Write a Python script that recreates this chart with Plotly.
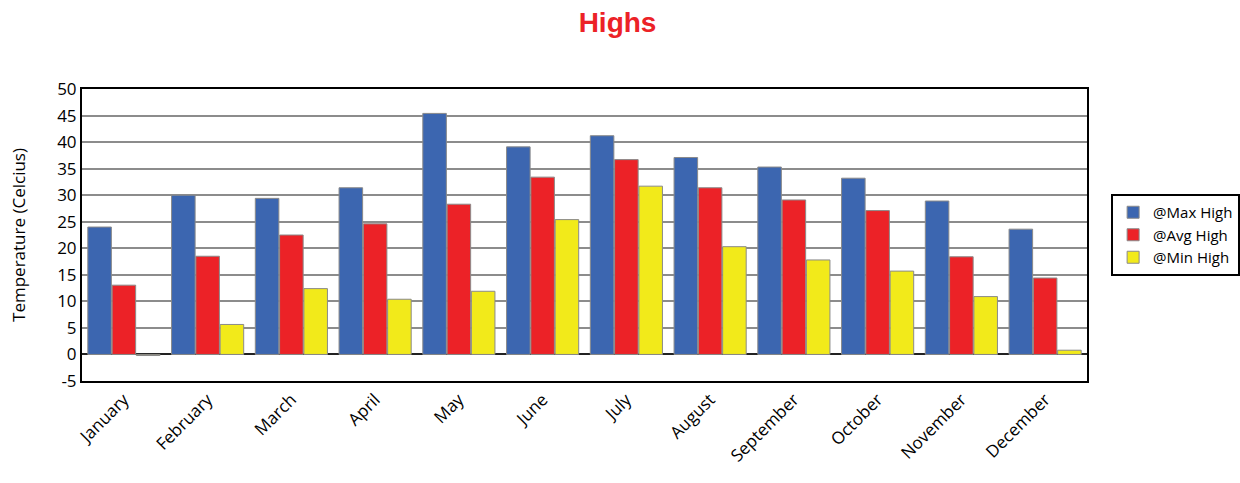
import plotly.graph_objects as go

months = ["January", "February", "March", "April", "May", "June", "July",
          "August", "September", "October", "November", "December"]
max_high = [24.0, 30.0, 29.4, 31.4, 45.4, 39.1, 41.2, 37.1, 35.3, 33.2, 28.9, 23.6]
avg_high = [13.05, 18.5, 22.5, 24.6, 28.3, 33.4, 36.7, 31.4, 29.1, 27.1, 18.4, 14.4]
min_high = [-0.2, 5.65, 12.4, 10.4, 11.9, 25.4, 31.7, 20.3, 17.8, 15.7, 10.9, 0.8]
series_names = ["@Max High", "@Avg High", "@Min High"]
colors = ["#3c66b0", "#ec2227", "#f2ea1a"]
y_ticks = [-5, 0, 5, 10, 15, 20, 25, 30, 35, 40, 45, 50]

font_family = "Open Sans, Noto Sans, sans-serif"

fig = go.Figure()
for name, vals, col in zip(series_names, [max_high, avg_high, min_high], colors):
    fig.add_trace(go.Bar(
        x=months, y=vals, name=name,
        marker=dict(color=col, line=dict(color="#8a8a8a", width=1)),
    ))

fig.update_layout(
    width=1240, height=483,
    paper_bgcolor="white", plot_bgcolor="white",
    margin=dict(l=82, r=153, t=89, b=102, autoexpand=False),
    barmode="group", bargap=0.13, bargroupgap=0.03,
    title=dict(text="<b>Highs</b>", x=0.498, xanchor="center", y=0.955, yanchor="middle",
               font=dict(family="Liberation Sans, Arial, sans-serif", size=28, color="#ec2227")),
    font=dict(family=font_family, size=16, color="black"),
    legend=dict(x=1.024, y=0.5, xanchor="left", yanchor="middle",
                bordercolor="black", borderwidth=2, bgcolor="white",
                font=dict(family=font_family, size=15, color="black"),
                tracegroupgap=0, itemwidth=30, traceorder="normal"),
    showlegend=True,
)

fig.update_xaxes(
    showline=True, linecolor="black", linewidth=2, mirror=True,
    tickangle=-45, ticks="", tickfont=dict(size=17),
    showgrid=False,
)
fig.update_yaxes(
    range=[-5, 50], tickvals=y_ticks, ticktext=[str(v) for v in y_ticks],
    showline=True, linecolor="black", linewidth=2, mirror=True,
    showgrid=True, gridcolor="#8c8c8c", gridwidth=2,
    zeroline=True, zerolinecolor="#222222", zerolinewidth=2,
    ticks="", tickfont=dict(size=17),
    title=dict(text="Temperature (Celcius)", font=dict(size=17), standoff=27),
)

fig.write_html("out.html")
